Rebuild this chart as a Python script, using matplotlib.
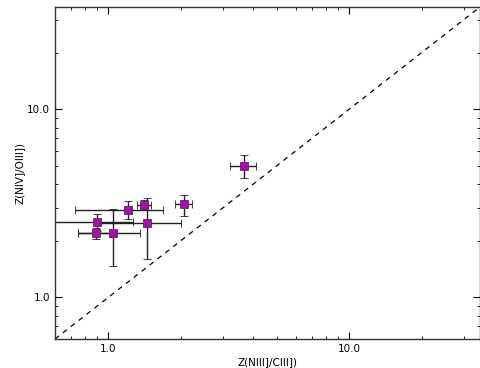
import matplotlib
matplotlib.use("Agg")
import matplotlib.pyplot as plt
from matplotlib.ticker import FormatStrFormatter, NullFormatter, LogLocator

# Z(NIII]/CIII]) vs Z(NIV]/OIII]) with symmetric errors
z_n3c3 = [3.65, 2.06, 1.41, 1.21, 0.90, 1.45, 0.89, 1.05]
z_n3c3_err = [0.45, 0.17, 0.09, 0.48, 0.36, 0.55, 0.14, 0.30]
z_n4o3 = [5.00, 3.12, 3.11, 2.93, 2.52, 2.48, 2.19, 2.21]
z_n4o3_err = [0.70, 0.40, 0.20, 0.33, 0.26, 0.89, 0.15, 0.75]
lims = [0.6, 35.0]

fig = plt.figure(figsize=(4.81, 3.68), dpi=100)
ax = fig.add_axes([55 / 481, 29 / 368, 425 / 481, 332 / 368])

ax.plot(lims, lims, '--k', lw=0.9, dashes=(4, 4))
ax.errorbar(z_n3c3, z_n4o3, xerr=z_n3c3_err, yerr=z_n4o3_err, fmt='s',
            color='#b400b4', mec='#404040', mew=0.6, ms=5.5,
            ecolor='#222222', elinewidth=1.0, capsize=3, capthick=0.9)

ax.set_xscale('log')
ax.set_yscale('log')
ax.set_xlim(lims)
ax.set_ylim(lims)
for axis in (ax.xaxis, ax.yaxis):
    axis.set_major_formatter(FormatStrFormatter('%.1f'))
    axis.set_minor_formatter(NullFormatter())
    axis.set_minor_locator(LogLocator(subs=range(2, 10)))
ax.tick_params(which='both', direction='in', top=True, right=True, labelsize=7.5)
ax.tick_params(which='major', length=5, width=0.8)
ax.tick_params(which='minor', length=2.5, width=0.6)
for s in ax.spines.values():
    s.set_linewidth(1.0)
    s.set_color('#333333')

ax.set_xlabel("Z(NIII]/CIII])", fontsize=7.5, labelpad=2)
ax.set_ylabel("Z(NIV]/OIII])", fontsize=7.5, labelpad=2)

fig.savefig("out.png", dpi=100)
